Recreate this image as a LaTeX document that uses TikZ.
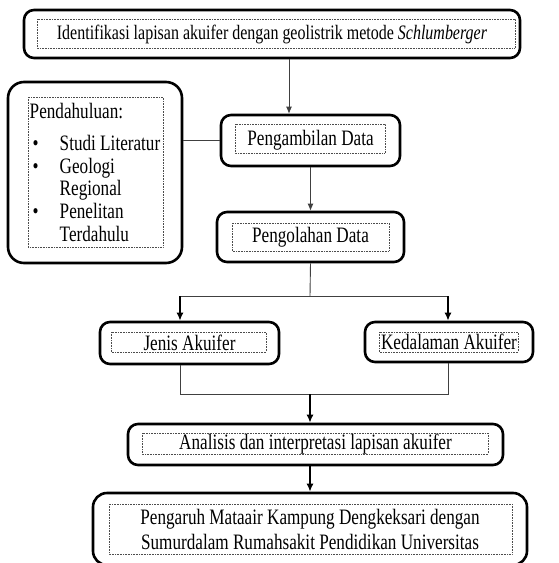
\documentclass[tikz,border=0pt]{standalone}
\usepackage{fontspec}
\setmainfont{Liberation Serif}[FakeStretch=0.78]
\usepackage{tikz}
\usetikzlibrary{arrows.meta,positioning}

\newcommand{\blt}[1]{\makebox[30pt][l]{\hspace{3pt}\textbullet}#1}

\begin{document}
\begin{tikzpicture}[
  x=1pt, y=-1pt,
  font=\fontsize{22}{25}\selectfont,
  box/.style   ={draw, line width=2.6pt, rounded corners=10pt, align=center,
                 inner sep=0pt},
  ln/.style    ={line width=0.9pt, black!75},
  ar/.style    ={ln, -{Latex[length=7pt,width=6pt]}},
  arb/.style   ={line width=2pt, -{Latex[length=8pt,width=7pt]}},
  tframe/.style={densely dotted, line width=0.6pt, black!70}
]
\useasboundingbox (0,0) rectangle (558,563);

\node[box, minimum width=496pt, minimum height=48pt,
      font=\fontsize{20.5}{25}\selectfont] (ident) at (272,34)
  {Identifikasi lapisan akuifer dengan geolistrik metode \emph{Schlumberger}};
\node[box, rounded corners=16pt, minimum width=174pt, minimum height=181pt,
      align=left, font=\fontsize{22}{22.75}\selectfont]
  (pend) at (95,172.5)
  {Pendahuluan:\\[9pt]
   \blt{Studi Literatur}\\
   \blt{Geologi}\\
   \hspace*{30pt}Regional\\
   \blt{Penelitan}\\
   \hspace*{30pt}Terdahulu};
\node[box, minimum width=179pt, minimum height=51pt] (ambil) at (310.5,140.5)
  {Pengambilan Data};
\node[box, minimum width=187pt, minimum height=50pt] (olah) at (310.5,237)
  {Pengolahan Data};
\node[box, minimum width=179pt, minimum height=42pt] (jenis) at (189.5,343)
  {Jenis Akuifer};
\node[box, minimum width=168pt, minimum height=40pt] (dalam) at (449,342)
  {Kedalaman Akuifer};
\node[box, minimum width=375pt, minimum height=41pt] (ana) at (315.5,444.5)
  {Analisis dan interpretasi lapisan akuifer};
\node[box, rounded corners=14pt, minimum width=434pt, minimum height=72pt]
  (peng) at (310,529)
  {Pengaruh Mataair Kampung Dengkeksari dengan\\
   Sumurdalam Rumahsakit Pendidikan Universitas};

% text box frames
\draw[tframe] (37,19) rectangle (515,48);
\draw[tframe] (28,97) rectangle (163,247);
\draw[tframe] (235,124) rectangle (385,153);
\draw[tframe] (232,223) rectangle (389,251);
\draw[tframe] (111,332) rectangle (266,352);
\draw[tframe] (379,332) rectangle (518,352);
\draw[tframe] (142,433) rectangle (488,454);
\draw[tframe] (109,504) rectangle (512,554);

\coordinate (split) at (310,296);
\coordinate (jl) at (180,296);
\coordinate (jr) at (448,296);
\coordinate (ml) at (180,394);
\coordinate (mr) at (448,394);
\coordinate (merge) at (310,394);

\draw[ar] ([xshift=17pt]ident.south) -- ([xshift=17pt]ident.south |- ambil.north);
\draw[ln] (pend.east |- ambil.west) -- (ambil.west);
\draw[ar] (ambil.south) -- (olah.north);
\draw[ln] (olah.south) -- (split);
\draw[ln] (jl) -- (jr);
\draw[arb] (jl) -- (jl |- jenis.north);
\draw[arb] (jr) -- (jr |- dalam.north);
\draw[ln] (ml |- jenis.south) -- (ml) -- (mr) -- (mr |- dalam.south);
\draw[arb] (merge) -- (merge |- ana.north);
\draw[arb] (merge |- ana.south) -- (merge |- peng.north);

\end{tikzpicture}
\end{document}
